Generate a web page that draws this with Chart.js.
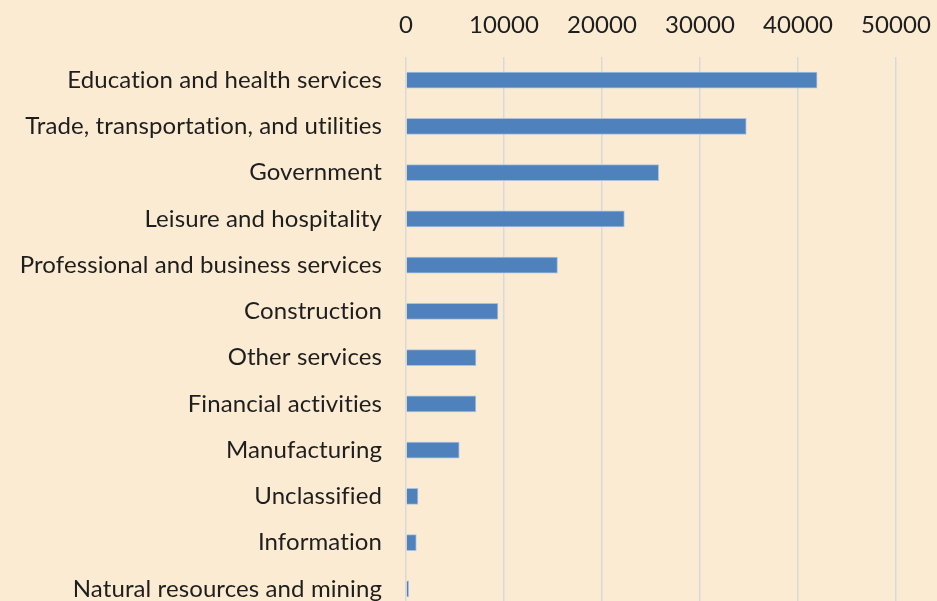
<!DOCTYPE html>
<html>
<head>
<meta charset="utf-8">
<script src="https://cdn.jsdelivr.net/npm/chart.js@4.4.1/dist/chart.umd.min.js"></script>
<style>
  html, body { margin: 0; padding: 0; background: #FAEBD2; overflow: hidden; }
  canvas { display: block; }
</style>
</head>
<body>
<canvas id="jobs-chart" width="937" height="612"></canvas>
<script>
// data
var categories = [
  'Education and health services',
  'Trade, transportation, and utilities',
  'Government',
  'Leisure and hospitality',
  'Professional and business services',
  'Construction',
  'Other services',
  'Financial activities',
  'Manufacturing',
  'Unclassified',
  'Information',
  'Natural resources and mining'
];
var employees = [41950, 34720, 25780, 22280, 15460, 9380, 7140, 7130, 5430, 1220, 1050, 270];
var xTicks = [0, 10000, 20000, 30000, 40000, 50000];

var labelFont = { family: 'Lato, "Open Sans", sans-serif', size: 24 };

// no "ti" ligatures like the original font
var noLigatures = {
  id: 'noLigatures',
  beforeDraw: function (chart) {
    chart.ctx.letterSpacing = '0.1px';
  }
};

document.addEventListener('DOMContentLoaded', function () {
  var ctx = document.getElementById('jobs-chart').getContext('2d');

  var jobsChart = new Chart(ctx, {
    type: 'bar',
    data: {
      labels: categories,
      datasets: [{
        data: employees,
        backgroundColor: '#4F81BD',
        borderColor: '#A9C1DF',
        borderWidth: 1,
        barThickness: 16
      }]
    },
    plugins: [noLigatures],
    options: {
      indexAxis: 'y',
      responsive: false,
      animation: false,
      layout: { padding: { left: 0, right: 41, top: 0, bottom: 0 } },
      plugins: {
        legend: { display: false },
        tooltip: { enabled: false }
      },
      scales: {
        x: {
          position: 'top',
          min: 0,
          max: 50000,
          afterBuildTicks: function (scale) {
            scale.ticks = xTicks.map(function (v) { return { value: v }; });
          },
          afterFit: function (scale) {
            scale.height = 57;
            scale.paddingLeft = 0;
            scale.paddingRight = 0;
          },
          grid: { color: '#D9D9D9', lineWidth: 1.5, drawTicks: false },
          border: { display: false },
          ticks: {
            color: '#1e1e1e',
            font: labelFont,
            padding: 17,
            callback: function (value) { return String(value); }
          }
        },
        y: {
          afterFit: function (scale) {
            scale.width = 406;
            scale.paddingTop = 0;
            scale.paddingBottom = 0;
          },
          grid: { display: false },
          border: { display: false },
          ticks: { color: '#1e1e1e', font: labelFont, padding: 16, autoSkip: false }
        }
      }
    }
  });
});
</script>
</body>
</html>
